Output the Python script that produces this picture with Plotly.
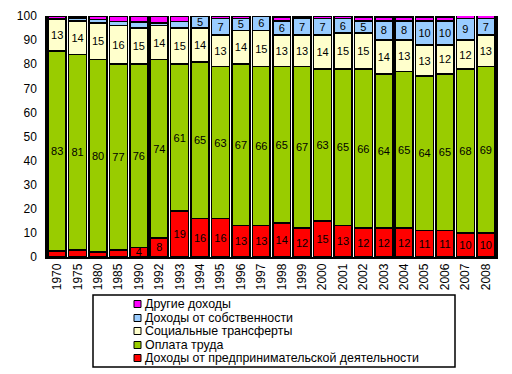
import plotly.graph_objects as go

years = ["1970", "1975", "1980", "1985", "1990", "1992", "1993", "1994", "1995", "1996", "1997",
         "1998", "1999", "2000", "2001", "2002", "2003", "2004", "2005", "2006", "2007", "2008"]

entrepreneur = [2.5, 3, 2, 3, 4, 8, 19, 16, 16, 13, 13, 14, 12, 15, 13, 12, 12, 12, 11, 11, 10, 10]
labour = [83, 81, 80, 77, 76, 74, 61, 65, 63, 67, 66, 65, 67, 63, 65, 66, 64, 65, 64, 65, 68, 69]
social = [13, 14, 15, 16, 15, 14, 15, 14, 13, 14, 15, 13, 13, 14, 15, 15, 14, 13, 13, 12, 12, 13]
prop = [0.4, 1.2, 1.5, 1.8, 2.5, 1.0, 2.7, 5, 7, 5, 6, 6, 7, 7, 6, 5, 8, 8, 10, 10, 9, 7]
other = [1.1, 0.8, 1.5, 2.2, 2.5, 3.0, 2.3, 0.8, 1, 1, 0.3, 1.5, 0.6, 1, 1, 1.5, 1.5, 1.5, 1.5, 1.5, 1.2, 1.5]

names = ["Доходы от предпринимательской деятельности", "Оплата труда",
         "Социальные трансферты", "Доходы от собственности", "Другие доходы"]
colors = ["#FF0000", "#99CC00", "#FFFFCC", "#99CCFF", "#FF00FF"]
series = [entrepreneur, labour, social, prop, other]
FONT = "Liberation Sans, Arial, sans-serif"

fig = go.Figure()
for i, (name, vals, col) in enumerate(zip(names, series, colors)):
    labels = [str(int(round(v))) if (v >= 4 and i != 4) else "" for v in vals]
    tf = dict(family=FONT, size=11, color="black")
    fig.add_trace(go.Bar(
        x=years, y=vals, name=name,
        marker=dict(color=col, line=dict(color="black", width=1.6)),
        text=labels, textposition="inside", insidetextanchor="middle",
        textangle=0, constraintext="none",
        textfont=tf, insidetextfont=tf,
        showlegend=False, hoverinfo="x+y+name",
    ))

# page body has an 8px margin, so the figure is offset by 8px; compensate
W, H = 504, 366
ML, MR, MT, MB = 39, 16, 8, 117
fig.update_layout(
    barmode="stack", bargap=0.12,
    width=W, height=H,
    margin=dict(l=ML, r=MR, t=MT, b=MB, autoexpand=False),
    paper_bgcolor="white", plot_bgcolor="white",
    font=dict(family=FONT, size=12, color="black"),
)
fig.update_xaxes(type="category", tickangle=-90, showline=True, linecolor="black", linewidth=1.5,
                 ticks="", tickfont=dict(size=12, family=FONT), showgrid=False, automargin=False)
fig.update_yaxes(range=[0, 100], dtick=10, showline=True, mirror=True, linecolor="black",
                 linewidth=1.5, ticks="", tickfont=dict(size=12, family=FONT), showgrid=False,
                 zeroline=False, ticklabelstandoff=6, automargin=False)

# legend box (drawn manually to match the compact original layout); coords in page pixels
OFF = 8
L, R, T, B = ML + OFF, W - MR + OFF, MT + OFF, H - MB + OFF
def px(x):
    return (x - L) / (R - L)
def py(y):
    return (B - y) / (B - T)

shapes = [dict(type="rect", xref="paper", yref="paper", x0=px(93), x1=px(455), y0=py(295), y1=py(367),
               line=dict(color="black", width=1.5), fillcolor="white")]
annotations = []
row_y = [304, 318, 331, 345, 358]
for k, idx in enumerate([4, 3, 2, 1, 0]):
    yc = row_y[k]
    shapes.append(dict(type="rect", xref="paper", yref="paper", x0=px(134), x1=px(141),
                       y0=py(yc + 3.5), y1=py(yc - 3.5), line=dict(color="black", width=1),
                       fillcolor=colors[idx]))
    annotations.append(dict(xref="paper", yref="paper", x=px(143), y=py(yc), text=names[idx],
                            showarrow=False, xanchor="left", yanchor="middle",
                            font=dict(family=FONT, size=12.4, color="black")))
fig.update_layout(shapes=shapes, annotations=annotations)

fig.write_html("out.html")
